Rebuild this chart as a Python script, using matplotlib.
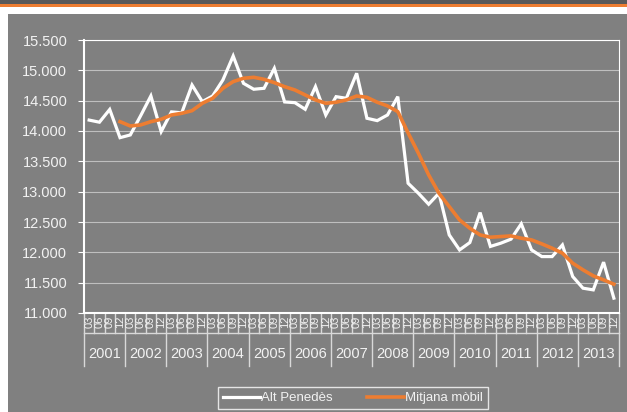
#!/usr/bin/env python3
import matplotlib
matplotlib.use('Agg')
import matplotlib.pyplot as plt
import matplotlib.patches as patches
import matplotlib.transforms as mtransforms
from matplotlib.ticker import FuncFormatter

matplotlib.rcParams['font.family'] = ['Liberation Sans', 'DejaVu Sans']

# DATA
years = [str(y) for y in range(2001, 2014)]
quarters = ['03', '06', '09', '12']

alt_penedes = [14180, 14145, 14355, 13890, 13935, 14250, 14578, 13990,
               14315, 14300, 14758, 14484, 14577, 14841, 15236, 14786,
               14688, 14704, 15033, 14479, 14467, 14358, 14731, 14264,
               14566, 14539, 14951, 14210, 14171, 14264, 14566, 13139,
               12974, 12793, 12974, 12287, 12040, 12161, 12655, 12097,
               12150, 12217, 12470, 12040, 11930, 11930, 12122, 11601,
               11409, 11381, 11838, 11245]

# moving average starts with the 4th quarter
mitjana_start = 3
mitjana_mobil = [14154, 14083, 14100, 14154, 14193, 14264, 14292, 14335,
                 14457, 14539, 14704, 14814, 14869, 14885, 14852, 14797,
                 14731, 14676, 14594, 14512, 14457, 14474, 14512, 14577,
                 14555, 14474, 14413, 14319, 13968, 13634, 13276, 12974,
                 12754, 12535, 12397, 12287, 12249, 12260, 12271, 12233,
                 12205, 12139, 12068, 11986, 11821, 11711, 11612, 11546,
                 11475]

W, H = 627, 412
bg = '#808080'
txt = '#F2F2F2'

fig = plt.figure(figsize=(W / 100, H / 100), dpi=100)
fig.patch.set_facecolor('white')

# header band and gray panel (behind the axes)
fig.patches.append(patches.Rectangle((0, 1 - 4 / H), 1, 4 / H, transform=fig.transFigure,
                                     facecolor='#595959', edgecolor='none', zorder=-10))
fig.patches.append(patches.Rectangle((0, 1 - 7 / H), 1, 3 / H, transform=fig.transFigure,
                                     facecolor='#ED7D31', edgecolor='none', zorder=-10))
fig.patches.append(patches.Rectangle((8 / W, 0), 1 - 8 / W, 1 - 14 / H, transform=fig.transFigure,
                                     facecolor=bg, edgecolor='none', zorder=-10))

x0, x1, y0, y1 = 84, 619, 40, 313
ax = fig.add_axes([x0 / W, 1 - y1 / H, (x1 - x0) / W, (y1 - y0) / H])
ax.set_facecolor(bg)

n = len(alt_penedes)
xs = list(range(n))
ax.plot(xs, alt_penedes, color='white', lw=2.3, solid_joinstyle='miter', zorder=3,
        label='Alt Penedès')
ax.plot(list(range(mitjana_start, mitjana_start + len(mitjana_mobil))), mitjana_mobil,
        color='#ED7D31', lw=2.6, zorder=4, label='Mitjana mòbil')

ax.set_xlim(-0.5, n - 0.5)
ax.set_ylim(11000, 15500)
ax.set_yticks(range(11000, 15501, 500))
ax.yaxis.set_major_formatter(FuncFormatter(lambda v, p: f'{int(v):,}'.replace(',', '.')))
ax.tick_params(axis='y', colors='white', labelcolor=txt, labelsize=10.5, length=4,
               width=0.8, pad=8)
ax.grid(axis='y', color='#BFBFBF', lw=0.8)
ax.set_axisbelow(True)

for s in ['top', 'right']:
    ax.spines[s].set_color('white')
    ax.spines[s].set_linewidth(0.8)
ax.spines['left'].set_color('white')
ax.spines['left'].set_linewidth(1.5)
ax.spines['bottom'].set_color('white')
ax.spines['bottom'].set_linewidth(1.5)

# category axis drawn by hand (quarters + years)
ax.set_xticks([])
tr = mtransforms.blended_transform_factory(ax.transData, ax.transAxes)
ph = (y1 - y0)
for i in range(n + 1):
    b = i - 0.5
    if i % 4 == 0:
        ax.plot([b, b], [0, -53 / ph], transform=tr, color='#D9D9D9', lw=1, clip_on=False)
    else:
        ax.plot([b, b], [0, -20 / ph], transform=tr, color='#D9D9D9', lw=1, clip_on=False)
ax.plot([-0.5, n - 0.5], [-20 / ph, -20 / ph], transform=tr, color='#D9D9D9', lw=1, clip_on=False)

# quarter labels are cut off at the separator line, as in the original
qclip = mtransforms.TransformedBbox(
    mtransforms.Bbox([[x0 / W, 1 - 333 / H], [x1 / W, 1 - y1 / H]]), fig.transFigure)
for i in range(n):
    t = ax.text(i, -3 / ph, quarters[i % 4], transform=tr, rotation=90, ha='center',
                va='top', fontsize=8, color=txt, clip_on=True)
    t.set_clip_box(qclip)
for k, yr in enumerate(years):
    ax.text(4 * k + 1.5, -41 / ph, yr, transform=tr, ha='center', va='center',
            fontsize=10.5, color=txt, clip_on=False)

leg = fig.legend(loc='center', bbox_to_anchor=(353 / W, 1 - 398 / H), ncol=2,
                 frameon=True, fancybox=False, fontsize=9.5, handlelength=2.8,
                 handletextpad=0.1, columnspacing=2.6, borderpad=0.4)
leg.get_frame().set_facecolor(bg)
leg.get_frame().set_edgecolor('white')
leg.get_frame().set_linewidth(1)
for t in leg.get_texts():
    t.set_color(txt)

fig.savefig('out.png', dpi=100, facecolor=fig.get_facecolor())
